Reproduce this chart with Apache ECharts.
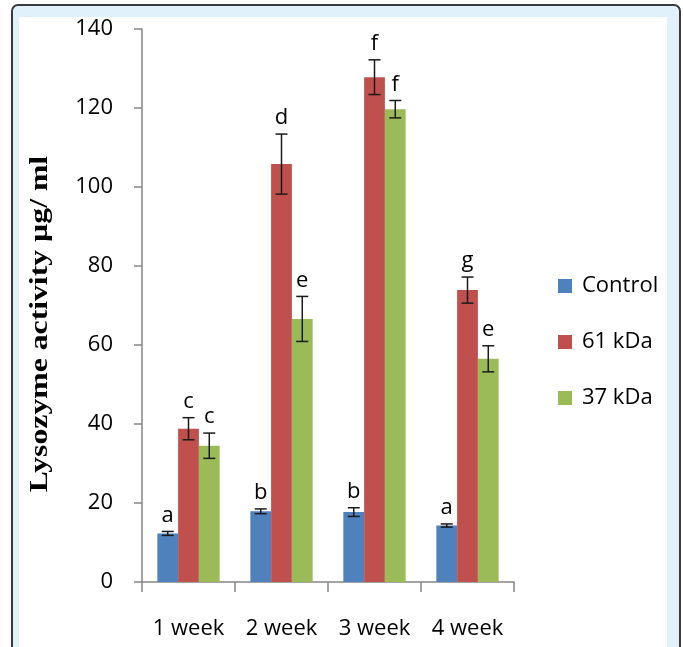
<!DOCTYPE html>
<html>
<head>
<meta charset="utf-8">
<script src="https://cdn.jsdelivr.net/npm/echarts@6/dist/echarts.min.js"></script>
<style>
html,body{margin:0;padding:0;background:#fff;}
#chart{width:683px;height:647px;}
</style>
</head>
<body>
<div id="chart"></div>
<script>
var categories = ['1 week', '2 week', '3 week', '4 week'];
var seriesNames = ['Control', '61 kDa', '37 kDa'];
var control = [12.3, 17.9, 17.7, 14.3];
var controlErr = [0.5, 0.6, 1.1, 0.4];
var kda61 = [38.8, 105.8, 127.8, 73.9];
var kda61Err = [2.8, 7.6, 4.4, 3.3];
var kda37 = [34.5, 66.6, 119.7, 56.5];
var kda37Err = [3.2, 5.7, 2.2, 3.3];
var controlLetters = ['a', 'b', 'b', 'a'];
var kda61Letters = ['c', 'd', 'f', 'g'];
var kda37Letters = ['c', 'e', 'f', 'e'];
var yTicks = [0, 20, 40, 60, 80, 100, 120, 140];

var colors = ['#4F81BD', '#C0504D', '#9BBB59'];
var values = [control, kda61, kda37];
var errs = [controlErr, kda61Err, kda37Err];
var letters = [controlLetters, kda61Letters, kda37Letters];
var catGap = 0.33;

var chart = echarts.init(document.getElementById('chart'), null, {renderer: 'canvas'});

function errSeries(si) {
  var data = categories.map(function (c, i) {
    return [i, values[si][i], errs[si][i], letters[si][i]];
  });
  return {
    type: 'custom',
    name: seriesNames[si] + ' err',
    z: 10,
    silent: true,
    data: data,
    encode: {x: 0, y: 1},
    renderItem: function (params, api) {
      var idx = api.value(0);
      var v = api.value(1);
      var e = api.value(2);
      var band = api.size([1, 0])[0];
      var bw = band * (1 - catGap) / 3;
      var center = api.coord([idx, v]);
      var x = center[0] + (si - 1) * bw;
      var top = api.coord([idx, v + e])[1];
      var bot = api.coord([idx, v - e])[1];
      var cap = 6;
      var st = {stroke: '#1a1a1a', lineWidth: 1.5};
      return {
        type: 'group',
        children: [
          {type: 'line', shape: {x1: x, y1: top, x2: x, y2: bot}, style: st},
          {type: 'line', shape: {x1: x - cap, y1: top, x2: x + cap, y2: top}, style: st},
          {type: 'line', shape: {x1: x - cap, y1: bot, x2: x + cap, y2: bot}, style: st},
          {type: 'text', x: x, y: top - 5, style: {
            text: letters[si][idx], fill: '#000', font: '22px "Open Sans"',
            align: 'center', verticalAlign: 'bottom'
          }}
        ]
      };
    }
  };
}

var series = [];
for (var s = 0; s < 3; s++) {
  series.push({
    type: 'bar',
    name: seriesNames[s],
    data: values[s],
    barGap: '0%',
    barCategoryGap: (catGap * 100) + '%',
    itemStyle: {color: colors[s]},
    emphasis: {disabled: true}
  });
}
for (var s2 = 0; s2 < 3; s2++) series.push(errSeries(s2));

chart.setOption({
  animation: false,
  backgroundColor: '#fff',
  graphic: [
    {type: 'rect', z: -10, shape: {x: 12, y: 5, width: 668, height: 700, r: 6},
      style: {fill: '#E0F1FC', stroke: '#3a3a3a', lineWidth: 2}},
    {type: 'rect', z: -9, shape: {x: 19, y: 17, width: 648, height: 700},
      style: {fill: '#ffffff'}},
    {type: 'text', x: 40, y: 324, rotation: Math.PI / 2, scaleX: 1.22, z: 5,
      style: {text: 'Lysozyme activity µg/ ml', font: 'bold 26px "Liberation Serif"',
        fill: '#000', align: 'center', verticalAlign: 'middle'}}
  ],
  grid: {left: 142, right: 169, top: 29, bottom: 65, containLabel: false},
  legend: {
    orient: 'vertical',
    left: 558,
    top: 275,
    padding: 0,
    itemWidth: 14,
    itemHeight: 14,
    itemGap: 34,
    icon: 'rect',
    data: seriesNames,
    selectedMode: false,
    textStyle: {fontFamily: 'Open Sans', fontSize: 22, color: '#000', lineHeight: 20, padding: [0, 0, 0, 5]}
  },
  xAxis: {
    type: 'category',
    data: categories,
    axisLine: {lineStyle: {color: '#868686', width: 1.5}},
    axisTick: {show: true, length: 10, alignWithLabel: false, lineStyle: {color: '#868686', width: 1.5}},
    axisLabel: {interval: 0, hideOverlap: false, margin: 36, fontFamily: 'Open Sans', fontSize: 22, color: '#000'},
    splitLine: {show: false}
  },
  yAxis: {
    type: 'value',
    min: yTicks[0],
    max: yTicks[yTicks.length - 1],
    interval: yTicks[1] - yTicks[0],
    axisLine: {show: true, lineStyle: {color: '#868686', width: 1.5}},
    axisTick: {show: true, length: 8, lineStyle: {color: '#868686', width: 1.5}},
    axisLabel: {margin: 29, fontFamily: 'Open Sans', fontSize: 22, color: '#000'},
    splitLine: {show: false}
  },
  series: series
});
</script>
</body>
</html>
